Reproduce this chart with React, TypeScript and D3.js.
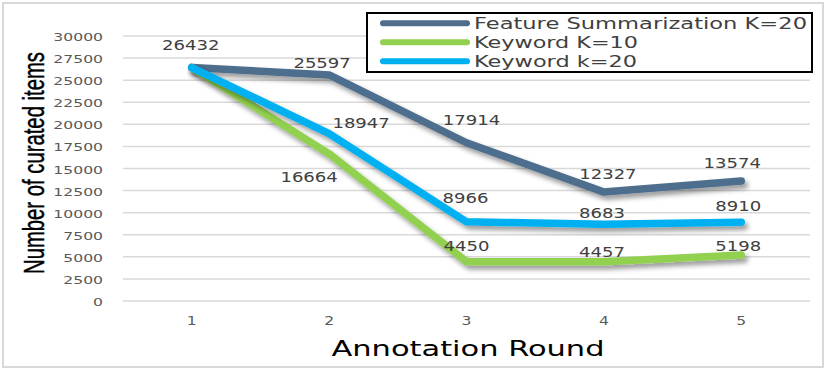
import React from 'react'
import * as d3 from 'd3'

// annotation rounds on the x axis
const rounds = ['1', '2', '3', '4', '5']

// series values
const featureK20 = [26432, 25597, 17914, 12327, 13574]
const keywordK10 = [26432, 16664, 4450, 4457, 5198]
const keywordK20 = [26432, 18947, 8966, 8683, 8910]

const seriesNames = ['Feature Summarization K=20', 'Keyword K=10', 'Keyword k=20']
const seriesColors = ['#4E6E8C', '#92D050', '#00B0F0']

const yTicks = [0, 2500, 5000, 7500, 10000, 12500, 15000, 17500, 20000, 22500, 25000, 27500, 30000]

// where excel put each data label relative to its point (null = hidden)
const labelNudge: ([number, number] | null)[][] = [
    [[-1, -22], [-7, -12], [5, -23], [4, -18], [-9, -18]],
    [null, [-20, 23], [0, -15], [-2, -9], [-3, -9]],
    [null, [32, -10], [-1, -24], [-2, -11], [-3, -16]],
]

const W = 829
const H = 374
const margin = { top: 36, right: 16, bottom: 73, left: 123 }

const font = '"DejaVu Sans", Verdana, sans-serif'

// text that is stretched sideways a bit like the original picture
const Wide = ({ x, y, size, sx = 1.3, fill = '#595959', anchor = 'middle', children }: any) => (
    <text
        transform={`translate(${x},${y}) scale(${sx},1)`}
        fontFamily={font}
        fontSize={size}
        fill={fill}
        textAnchor={anchor}
        dominantBaseline="central"
    >
        {children}
    </text>
)

export default function App() {
    const data = [featureK20, keywordK10, keywordK20]

    const x = d3.scalePoint<string>()
        .domain(rounds)
        .range([margin.left, W - margin.right - 3])
        .padding(0.5)

    const y = d3.scaleLinear()
        .domain([0, 30000])
        .range([H - margin.bottom, margin.top])

    const line = d3.line<number>()
        .x((d, i) => x(rounds[i]) as number)
        .y(d => y(d))

    return (
        <div style={{ position: 'absolute', left: 0, top: 0 }}>
            <svg width={W} height={H} style={{ display: 'block', background: '#fff' }}>
                <defs>
                    <filter id="shadow" x="-10%" y="-10%" width="130%" height="140%">
                        <feDropShadow dx="3" dy="4" stdDeviation="2.5" floodColor="#000" floodOpacity="0.4" />
                    </filter>
                </defs>

                {/* outer chart border */}
                <rect x={3} y={3} width={820} height={364} fill="#fff" stroke="#D9D9D9" strokeWidth={2} />

                {/* gridlines + y tick labels */}
                {yTicks.map(t => (
                    <g key={t}>
                        <line x1={margin.left} x2={W - margin.right - 3} y1={y(t)} y2={y(t)} stroke="#D9D9D9" strokeWidth={1.5} />
                        <Wide x={103} y={y(t) + 1} size={11} sx={1.42} anchor="end">{t}</Wide>
                    </g>
                ))}

                {/* x tick labels */}
                {rounds.map(r => (
                    <Wide key={r} x={x(r)} y={321} size={12} sx={1.3}>{r}</Wide>
                ))}

                {/* lines */}
                {data.map((s, i) => (
                    <path
                        key={seriesNames[i]}
                        d={line(s) as string}
                        fill="none"
                        stroke={seriesColors[i]}
                        strokeWidth={7.5}
                        strokeLinecap="round"
                        strokeLinejoin="round"
                        filter="url(#shadow)"
                    />
                ))}

                {/* data labels */}
                {data.map((s, i) =>
                    s.map((v, j) => {
                        const n = labelNudge[i][j]
                        if (!n) return null
                        return (
                            <Wide key={`${i}-${j}`} x={(x(rounds[j]) as number) + n[0]} y={y(v) + n[1]} size={14} sx={1.29} fill="#404040">
                                {v}
                            </Wide>
                        )
                    })
                )}

                {/* axis titles */}
                <text
                    x={468}
                    y={356}
                    fontFamily={font}
                    fontSize={21}
                    textAnchor="middle"
                    fill="#000"
                    textLength={273}
                    lengthAdjust="spacingAndGlyphs"
                >
                    Annotation Round
                </text>
                <text
                    transform="translate(44,163) rotate(-90) scale(1,1.15)"
                    fontFamily='"Liberation Sans Narrow", "Liberation Sans", sans-serif'
                    fontSize={26}
                    textAnchor="middle"
                    fill="#000"
                    stroke="#000"
                    strokeWidth={0.4}
                    textLength={222}
                    lengthAdjust="spacingAndGlyphs"
                >
                    Number of curated items
                </text>

                {/* legend */}
                <g>
                    <rect x={367} y={13} width={445} height={59} fill="#fff" stroke="#000" strokeWidth={2} />
                    {seriesNames.map((name, i) => {
                        const ly = 23.3 + i * 19
                        return (
                            <g key={name}>
                                <line x1={383} x2={467} y1={ly} y2={ly} stroke={seriesColors[i]} strokeWidth={6} strokeLinecap="round" />
                                <text
                                    x={474}
                                    y={ly + 6}
                                    fontFamily={font}
                                    fontSize={16.5}
                                    fill="#404040"
                                    textLength={[333, 164, 163][i]}
                                    lengthAdjust="spacingAndGlyphs"
                                >
                                    {name}
                                </text>
                            </g>
                        )
                    })}
                </g>
            </svg>
        </div>
    )
}
